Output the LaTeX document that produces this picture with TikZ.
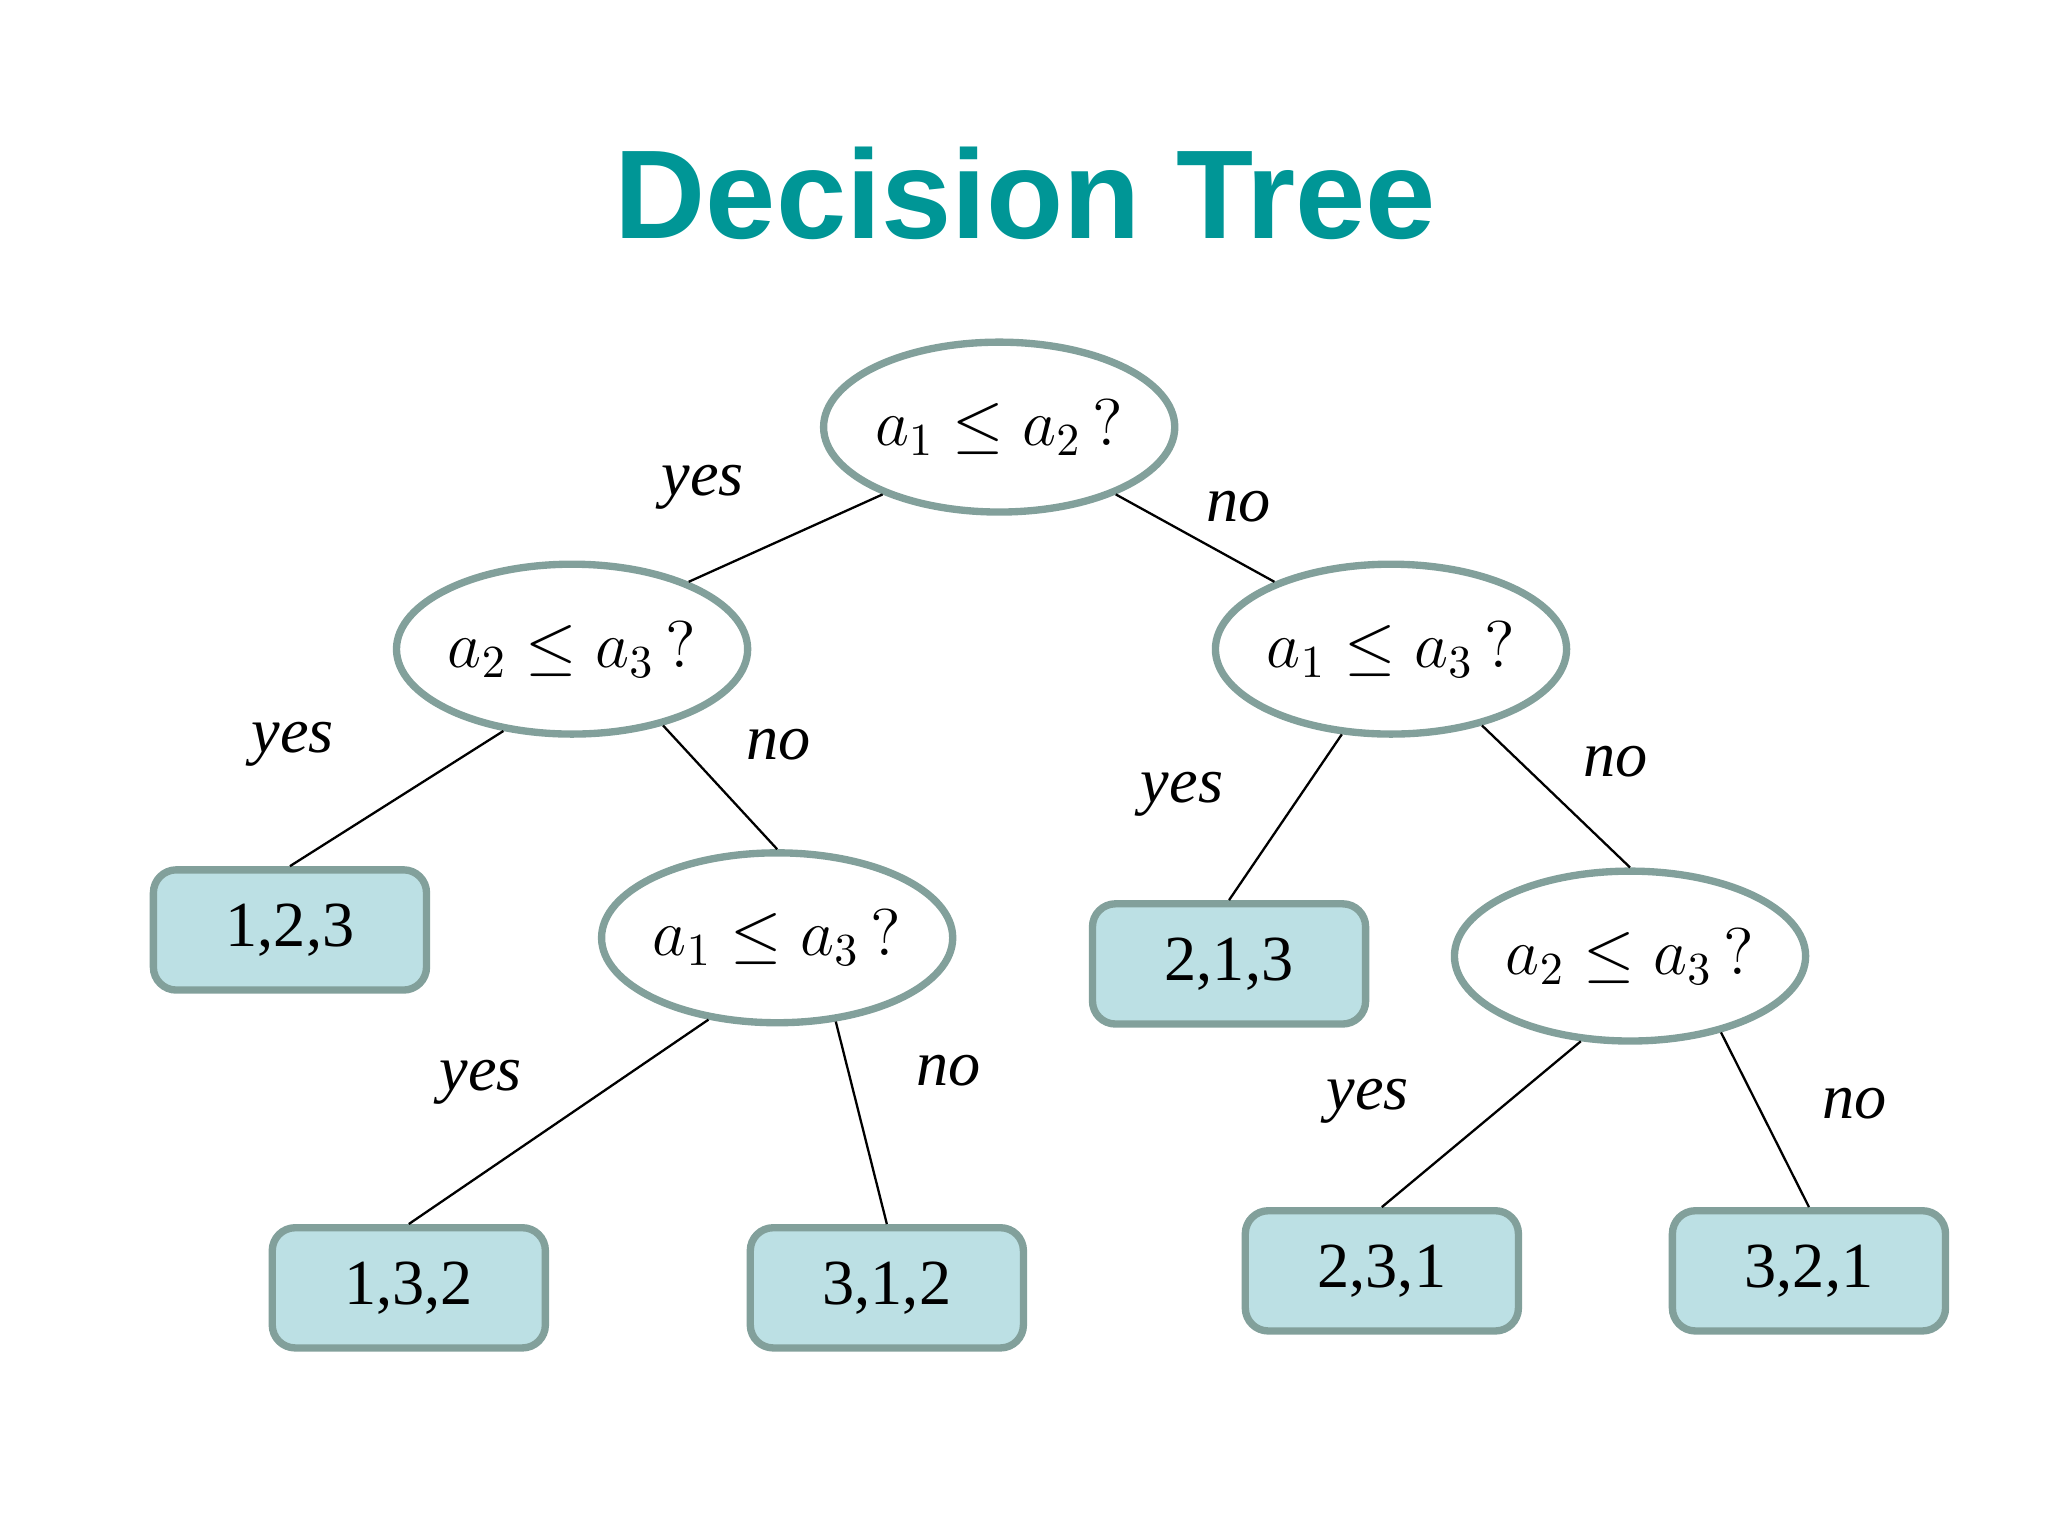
\documentclass[tikz,border=0pt]{standalone}
\usepackage{fontspec}
\setmainfont{Liberation Serif}
\setsansfont{Liberation Sans}
\usetikzlibrary{shapes.geometric}
\definecolor{titlecol}{RGB}{0,150,150}
\definecolor{edgecol}{RGB}{130,160,155}
\definecolor{leafcol}{RGB}{188,224,228}
\tikzset{
  test/.style={ellipse, draw=edgecol, line width=1.6pt, minimum width=2.5cm, minimum height=1.3cm, inner sep=0pt, font=\fontsize{14}{17}\selectfont},
  leaf/.style={rectangle, rounded corners=5pt, draw=edgecol, fill=leafcol, line width=1.6pt, minimum width=2.09cm, minimum height=0.92cm, font=\fontsize{14}{17}\selectfont},
  ans/.style={font=\itshape\fontsize{14}{17}\selectfont},
  branch/.style={draw, line width=0.5pt}
}
\begin{document}
\begin{tikzpicture}[x=0.01cm, y=-0.01cm]
  \useasboundingbox (0,0) rectangle (1568,1176);
  \node[font=\sffamily\bfseries\fontsize{27.5}{32}\selectfont, text=titlecol] (title) at (785,148) {Decision Tree};

  % tests
  \node[test] (t12) at (765,327) {$a_1 \le a_2\,?$};
  \node[test] (t23) at (438,497) {$a_2 \le a_3\,?$};
  \node[test] (t13) at (1065,497) {$a_1 \le a_3\,?$};
  \node[test] (u13) at (595,718) {$a_1 \le a_3\,?$};
  \node[test] (u23) at (1248,732) {$a_2 \le a_3\,?$};

  % leaves
  \node[leaf] (p123) at (222,712) {1,2,3};
  \node[leaf] (p132) at (313,986) {1,3,2};
  \node[leaf] (p312) at (679,986) {3,1,2};
  \node[leaf] (p213) at (941,738) {2,1,3};
  \node[leaf] (p231) at (1058,973) {2,3,1};
  \node[leaf] (p321) at (1385,973) {3,2,1};

  \draw[branch] (t12.-150) -- (t23.30);
  \draw[branch] (t12.-30) -- (t13.150);
  \draw[branch] (t23.-130) -- (p123.north);
  \draw[branch] (t23.-40) -- (u13.north);
  \draw[branch] (t13.-120) -- (p213.north);
  \draw[branch] (t13.-40) -- (u23.north);
  \draw[branch] (u13.-130) -- (p132.north);
  \draw[branch] (u13.-55) -- (p312.north);
  \draw[branch] (u23.-120) -- (p231.north);
  \draw[branch] (u23.-40) -- (p321.north);

  \node[ans] (y1) at (538,373) {yes};
  \node[ans] (n1) at (948,388) {no};
  \node[ans] (y2) at (224,570) {yes};
  \node[ans] (n2) at (596,570) {no};
  \node[ans] (y3) at (905,608) {yes};
  \node[ans] (n3) at (1237,583) {no};
  \node[ans] (y4) at (368,829) {yes};
  \node[ans] (n4) at (726,820) {no};
  \node[ans] (y5) at (1047,843) {yes};
  \node[ans] (n5) at (1420,845) {no};
\end{tikzpicture}
\end{document}
